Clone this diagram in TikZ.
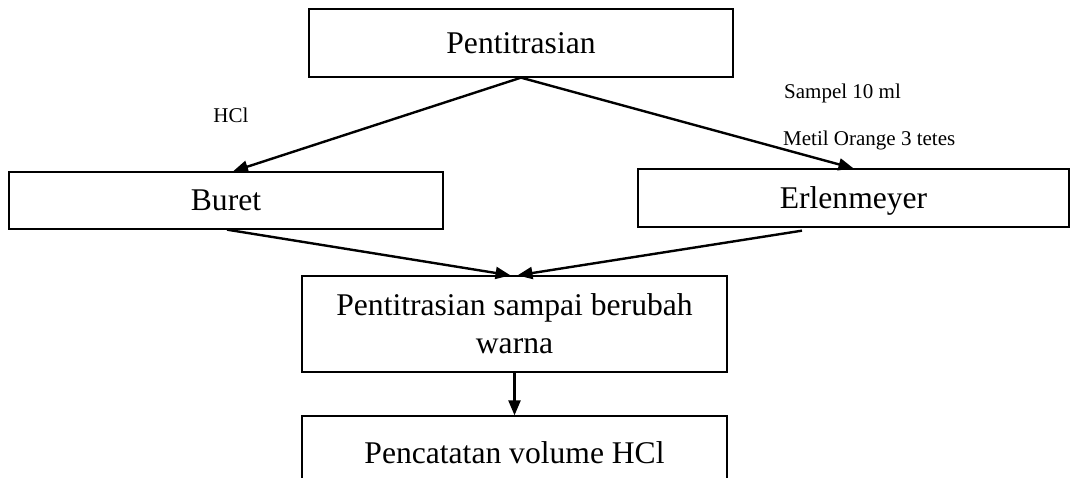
\documentclass[tikz,border=0pt]{standalone}
\usepackage{fontspec}
\setmainfont{Liberation Serif}
\usetikzlibrary{arrows.meta}
\begin{document}
\begin{tikzpicture}[x=1pt,y=-1pt,
  box/.style={draw=black,line width=1.3pt,rectangle,inner sep=0pt,align=center,
    font=\fontsize{31.6}{38}\selectfont},
  lbl/.style={inner sep=0pt,font=\fontsize{21}{25}\selectfont},
  flow/.style={line width=2.4pt,-{Triangle[length=15pt,width=12pt]}}]
\useasboundingbox[fill=white] (0,0) rectangle (1071,477);
\node[box,minimum width=424pt,minimum height=68pt] (top) at (521,43) {Pentitrasian};
\node[box,minimum width=434pt,minimum height=57pt] (buret) at (226,200.5) {Buret};
\node[box,minimum width=431pt,minimum height=58pt,text depth=0pt] (erlen) at (853.5,198) {Erlenmeyer};
\node[box,minimum width=425pt,minimum height=96pt] (mid) at (514.5,324) {Pentitrasian sampai berubah\\warna};
\node[box,minimum width=425pt,minimum height=74pt] (last) at (514.5,453) {Pencatatan volume HCl};
\node[lbl] (hcl) at (231,115) {HCl};
\node[lbl,anchor=west] (sampel) at (784,93) {Sampel 10 ml};
\node[lbl,anchor=west] (metil) at (783,140) {Metil Orange 3 tetes};
\draw[flow] (top.south) -- ([xshift=7pt]buret.north);
\draw[flow] (top.south) -- (erlen.north);
\draw[flow] ([xshift=1pt]buret.south) -- ([xshift=-4pt]mid.north);
\draw[flow] ([xshift=-51.5pt,yshift=-3pt]erlen.south) -- ([xshift=3pt]mid.north);
\draw[flow] (mid.south) -- (last.north);
\end{tikzpicture}
\end{document}
